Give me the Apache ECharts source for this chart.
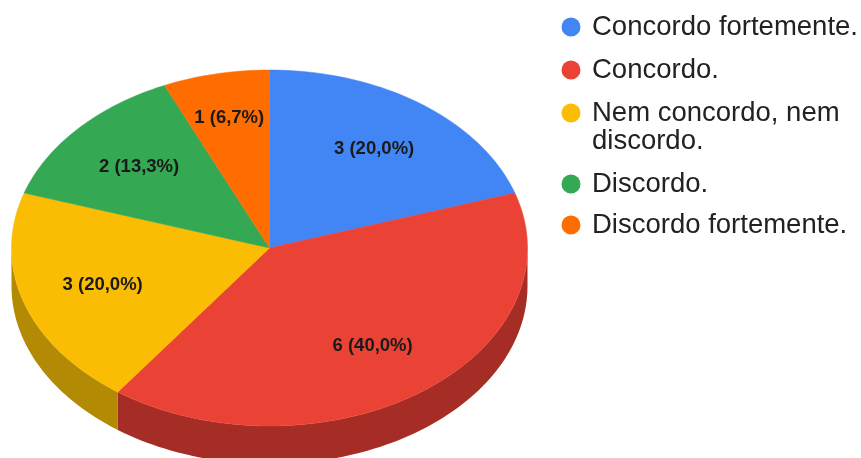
<!DOCTYPE html>
<html><head><meta charset="utf-8">
<style>html,body{margin:0;padding:0;background:#fff}#c{width:861px;height:458px}</style>
<script src="https://cdn.jsdelivr.net/npm/echarts@6/dist/echarts.min.js"></script>
</head><body><div id="c"></div>
<script>
const categories = ['Concordo fortemente.', 'Concordo.', 'Nem concordo, nem discordo.', 'Discordo.', 'Discordo fortemente.'];
const values = [3, 6, 3, 2, 1];
const percentLabels = ['20,0%', '40,0%', '20,0%', '13,3%', '6,7%'];
const colors = ['#4285F4', '#EA4335', '#FBBC04', '#34A853', '#FF6D01'];
const sideColors = ['#2F5FAE', '#A52D25', '#B38A03', '#257A3B', '#B54E01'];
const labelRadii = [0.69, 0.68, 0.68, 0.68, 0.75];
const legendCenters = [27, 70, 113, 184, 225];

const FONT = '"Liberation Sans", Arial, sans-serif';
const CX = 269.5, CY = 248, RX = 258, RY = 178, DEPTH = 38;
const total = values.reduce((a, b) => a + b, 0);
const rad = d => d * Math.PI / 180;
const pt = (deg, dy) => [CX + RX * Math.sin(rad(deg)), CY - RY * Math.cos(rad(deg)) + (dy || 0)];

function arcPoints(a, b, dy) {
  const n = Math.max(2, Math.ceil(Math.abs(b - a) / 1.5));
  const out = [];
  for (let i = 0; i <= n; i++) out.push(pt(a + (b - a) * i / n, dy));
  return out;
}

function makeRender(idx) {
  const before = values.slice(0, idx).reduce((a, b) => a + b, 0);
  return function (params, api) {
    const v = api.value(0);
    const a0 = before / total * 360, a1 = (before + v) / total * 360;
    const children = [];
    const s0 = Math.max(a0, 90), s1 = Math.min(a1, 270);
    if (s1 > s0) {
      children.push({
        type: 'polygon',
        shape: { points: arcPoints(s0, s1, 0).concat(arcPoints(s1, s0, DEPTH)) },
        style: { fill: sideColors[idx] }
      });
    }
    children.push({
      type: 'polygon',
      shape: { points: [[CX, CY]].concat(arcPoints(a0, a1, 0)) },
      style: { fill: colors[idx], stroke: colors[idx], lineWidth: 0.5 }
    });
    const mid = (a0 + a1) / 2, r = labelRadii[idx];
    children.push({
      type: 'text',
      z2: 10,
      style: {
        x: CX + RX * r * Math.sin(rad(mid)),
        y: CY - RY * r * Math.cos(rad(mid)),
        text: v + ' (' + percentLabels[idx] + ')',
        font: 'bold 18.5px ' + FONT,
        fill: '#1a1a1a',
        align: 'center',
        verticalAlign: 'middle'
      }
    });
    return { type: 'group', children };
  };
}

const chart = echarts.init(document.getElementById('c'), null, { renderer: 'canvas' });
chart.setOption({
  animation: false,
  backgroundColor: '#fff',
  legend: categories.map((name, i) => ({
    data: [name],
    left: 561.5,
    top: legendCenters[i] - 14,
    padding: 0,
    itemWidth: 32,
    itemHeight: 19,
    icon: 'circle',
    selectedMode: false,
    formatter: n => n.replace(' discordo.', ''),
    textStyle: { fontFamily: FONT, fontSize: 27.5, lineHeight: 28, color: '#222' }
  })),
  graphic: [{
    type: 'text',
    left: 592,
    top: 127,
    style: { text: 'discordo.', font: '27.5px ' + FONT, fill: '#222', lineHeight: 28 }
  }],
  series: categories.map((name, i) => ({
    type: 'custom',
    name,
    coordinateSystem: 'none',
    itemStyle: { color: colors[i] },
    renderItem: makeRender(i),
    silent: true,
    data: [[values[i]]]
  }))
});
</script></body></html>
